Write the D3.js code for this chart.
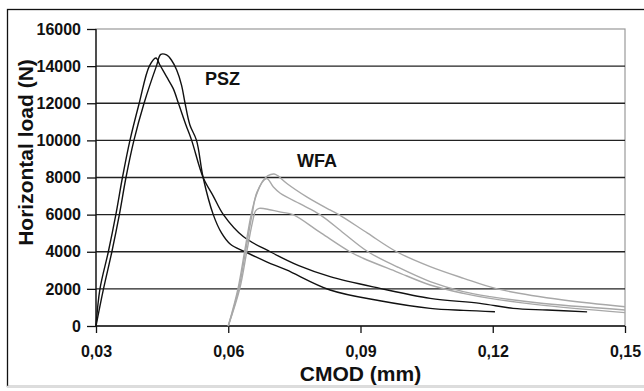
<!DOCTYPE html>
<html>
<head>
<meta charset="utf-8">
<script src="https://cdn.jsdelivr.net/npm/d3@7"></script>
<style>
  body { margin: 0; background: #fff; }
  svg { display: block; }
</style>
</head>
<body>
<div id="chart"></div>
<script>
// ---- data ----
var xTicks = [0.03, 0.06, 0.09, 0.12, 0.15];
var yTicks = [0, 2000, 4000, 6000, 8000, 10000, 12000, 14000, 16000];

// PSZ, first specimen (longer, upper tail)
var pszAX = [0.03, 0.0309, 0.0328, 0.0345, 0.036, 0.0377, 0.0398, 0.0421, 0.0436, 0.0445, 0.046, 0.0475, 0.0487, 0.0504, 0.0517, 0.0543, 0.0566, 0.0589, 0.0634, 0.0695, 0.076, 0.0831, 0.0944, 0.1058, 0.1171, 0.1246, 0.1323, 0.1414];
var pszAY = [0, 2000, 4000, 6000, 8000, 10000, 12000, 14000, 14440, 14060, 13430, 12800, 12000, 10830, 10000, 8000, 7000, 6000, 4820, 4000, 3250, 2660, 2030, 1490, 1220, 950, 860, 760];
// PSZ, second specimen (higher peak, shorter tail)
var pszBX = [0.03, 0.0317, 0.0336, 0.0353, 0.0368, 0.0386, 0.0409, 0.0437, 0.0447, 0.046, 0.0471, 0.0483, 0.0494, 0.0502, 0.0513, 0.0528, 0.0543, 0.0566, 0.0585, 0.0605, 0.0638, 0.0687, 0.0732, 0.0831, 0.0944, 0.1058, 0.1134, 0.1205];
var pszBY = [0, 2000, 4000, 6000, 8000, 10000, 12000, 14000, 14630, 14600, 14330, 13790, 12980, 12000, 10830, 10000, 8000, 6000, 5000, 4400, 4000, 3460, 3020, 1940, 1360, 950, 840, 770];

// WFA, three specimens
var wfa1X = [0.06, 0.0622, 0.0637, 0.0652, 0.0663, 0.0678, 0.069, 0.0704, 0.0712, 0.0733, 0.0778, 0.0831, 0.0851, 0.0916, 0.0982, 0.1058, 0.1134, 0.121, 0.136, 0.15];
var wfa1Y = [0, 2000, 4000, 6000, 7000, 7800, 8100, 8190, 8100, 7680, 6960, 6250, 6000, 5000, 4000, 3200, 2570, 2000, 1400, 1040];
var wfa2X = [0.06, 0.0624, 0.0639, 0.0654, 0.0665, 0.0687, 0.0702, 0.0718, 0.077, 0.0808, 0.0862, 0.0917, 0.0982, 0.1058, 0.1133, 0.1194, 0.13, 0.15];
var wfa2Y = [0, 2000, 4000, 6000, 7200, 7950, 7500, 7150, 6500, 6000, 5000, 4000, 3200, 2390, 1850, 1580, 1250, 860];
var wfa3X = [0.06, 0.0626, 0.0642, 0.0655, 0.0662, 0.067, 0.0697, 0.0723, 0.0747, 0.0811, 0.0876, 0.0906, 0.0982, 0.1058, 0.1133, 0.1194, 0.13, 0.15];
var wfa3Y = [0, 2000, 4000, 5600, 6200, 6340, 6250, 6120, 6000, 5000, 4000, 3650, 2920, 2210, 1760, 1490, 1150, 720];

var series = [
  { x: pszAX, y: pszAY, color: '#111' },
  { x: pszBX, y: pszBY, color: '#111' },
  { x: wfa1X, y: wfa1Y, color: '#a8a8a8' },
  { x: wfa2X, y: wfa2Y, color: '#a8a8a8' },
  { x: wfa3X, y: wfa3Y, color: '#a8a8a8' }
];

// ---- layout ----
var width = 644, height = 391;
var plotL = 96, plotR = 625, plotT = 29, plotB = 326;
var font = "'Liberation Sans', Arial, sans-serif";

var svg = d3.select('#chart').append('svg')
  .attr('width', width)
  .attr('height', height);

// outer frame
svg.append('rect')
  .attr('x', 7.5).attr('y', 9.5)
  .attr('width', 660).attr('height', 377)
  .attr('fill', 'none')
  .attr('stroke', '#111')
  .attr('stroke-width', 1.3);
svg.append('line')
  .attr('x1', 7).attr('x2', 644)
  .attr('y1', 386.5).attr('y2', 386.5)
  .attr('stroke', '#ddd').attr('stroke-width', 1.5);

var xScale = d3.scaleLinear().domain([0.03, 0.15]).range([plotL, plotR]);
var yScale = d3.scaleLinear().domain([0, 16000]).range([plotB, plotT]);

// plot area border (grey)
svg.append('rect')
  .attr('x', plotL).attr('y', plotT)
  .attr('width', plotR - plotL).attr('height', plotB - plotT)
  .attr('fill', 'none')
  .attr('stroke', '#999')
  .attr('stroke-width', 1.2);

// grid lines
svg.append('g')
  .selectAll('line')
  .data(yTicks.filter(d => d > 0 && d < 16000))
  .enter().append('line')
  .attr('x1', plotL).attr('x2', plotR)
  .attr('y1', d => yScale(d)).attr('y2', d => yScale(d))
  .attr('stroke', '#222')
  .attr('stroke-width', 1.3);

// axes
var xAxis = d3.axisBottom(xScale).tickValues(xTicks).tickSize(7).tickPadding(13)
  .tickFormat(d => d3.format('.2f')(d).replace('.', ','));
var yAxis = d3.axisLeft(yScale).tickValues(yTicks).tickSize(9).tickPadding(6)
  .tickFormat(d3.format('d'));

var gx = svg.append('g')
  .attr('transform', `translate(0, ${plotB})`)
  .call(xAxis);
var gy = svg.append('g')
  .attr('transform', `translate(${plotL}, 0)`)
  .call(yAxis);

[gx, gy].forEach(function (g) {
  g.selectAll('path').attr('stroke', '#111').attr('stroke-width', 1.3);
  g.selectAll('line').attr('stroke', '#111').attr('stroke-width', 1.3);
  g.selectAll('text')
    .attr('font-family', font)
    .attr('font-size', 16)
    .attr('font-weight', 'bold')
    .attr('fill', '#111');
});
gx.select('.domain').attr('d', `M${plotL},0H${plotR}`);
gy.select('.domain').attr('d', `M0,${plotT}V${plotB}`);

// curves
var line = d3.line()
  .x(d => xScale(d[0]))
  .y(d => yScale(d[1]))
  .curve(d3.curveCatmullRom.alpha(0.5));

svg.append('g')
  .selectAll('path')
  .data(series)
  .enter().append('path')
  .attr('d', s => line(s.x.map((v, i) => [v, s.y[i]])))
  .attr('fill', 'none')
  .attr('stroke', s => s.color)
  .attr('stroke-width', 1.4);

// series labels
svg.append('text')
  .attr('x', 205).attr('y', 85)
  .attr('font-family', font).attr('font-size', 18).attr('font-weight', 'bold')
  .attr('fill', '#111')
  .text('PSZ');
svg.append('text')
  .attr('x', 297).attr('y', 167)
  .attr('font-family', font).attr('font-size', 18).attr('font-weight', 'bold')
  .attr('fill', '#111')
  .text('WFA');

// axis titles
svg.append('text')
  .attr('x', (plotL + plotR) / 2).attr('y', 381)
  .attr('text-anchor', 'middle')
  .attr('font-family', font).attr('font-size', 21).attr('font-weight', 'bold')
  .attr('fill', '#111')
  .text('CMOD (mm)');
svg.append('text')
  .attr('transform', `translate(33, ${(plotT + plotB) / 2 - 25}) rotate(-90)`)
  .attr('text-anchor', 'middle')
  .attr('font-family', font).attr('font-size', 21).attr('font-weight', 'bold')
  .attr('fill', '#111')
  .text('Horizontal load (N)');
</script>
</body>
</html>
